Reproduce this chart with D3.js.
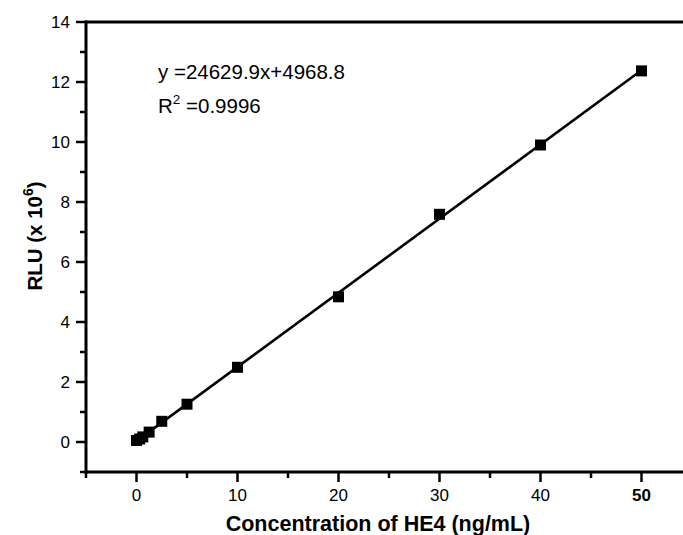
<!DOCTYPE html>
<html><head><meta charset="utf-8">
<script src="https://cdn.jsdelivr.net/npm/d3@7"></script>
<style>body{margin:0;background:#fff}svg{display:block}text{font-family:Arial,"Liberation Sans",sans-serif}</style>
</head><body>
<script>
const concentrations = [0, 0.3125, 0.625, 1.25, 2.5, 5, 10, 20, 30, 40, 50];
const rluValues = [0.05, 0.10, 0.17, 0.33, 0.69, 1.26, 2.49, 4.84, 7.59, 9.90, 12.37];
const xMajorTicks = [0, 10, 20, 30, 40, 50];
const xMinorTicks = [-5, 5, 15, 25, 35, 45];
const yMajorTicks = [0, 2, 4, 6, 8, 10, 12, 14];
const yMinorTicks = [-1, 1, 3, 5, 7, 9, 11, 13];
const equationText = "y =24629.9x+4968.8";
const r2Value = "=0.9996";
const xTitle = "Concentration of HE4 (ng/mL)";

const W = 683, H = 535;
const svg = d3.select("body").append("svg").attr("width", W).attr("height", H);
const x = d3.scaleLinear().domain([-5, 55]).range([86, 692]);
const y = d3.scaleLinear().domain([-1, 14]).range([472, 22]);

// fit line (least squares from data)
const n = concentrations.length;
const mx = d3.mean(concentrations), my = d3.mean(rluValues);
let sxy = 0, sxx = 0;
for (let i = 0; i < n; i++) { sxy += (concentrations[i]-mx)*(rluValues[i]-my); sxx += (concentrations[i]-mx)**2; }
const slope = sxy / sxx, icpt = my - slope * mx;
const fitX = [d3.min(concentrations), d3.max(concentrations)];
svg.append("path")
  .attr("d", d3.line().x(d => x(d)).y(d => y(slope*d + icpt))(fitX))
  .attr("stroke", "#000").attr("stroke-width", 2.6).attr("fill", "none");

// markers
const ms = 11;
svg.selectAll("rect.pt").data(concentrations).join("rect").attr("class","pt")
  .attr("x", d => x(d) - ms/2).attr("y", (d,i) => y(rluValues[i]) - ms/2)
  .attr("width", ms).attr("height", ms).attr("fill", "#000");

// axes lines
const axW = 3;
svg.append("line").attr("x1", x(-5)).attr("x2", W).attr("y1", y(-1)).attr("y2", y(-1)).attr("stroke","#000").attr("stroke-width",axW);
svg.append("line").attr("x1", x(-5)).attr("x2", W).attr("y1", y(14)).attr("y2", y(14)).attr("stroke","#000").attr("stroke-width",axW);
svg.append("line").attr("x1", x(-5)).attr("x2", x(-5)).attr("y1", y(-1)+1.5).attr("y2", y(14)-1.5).attr("stroke","#000").attr("stroke-width",axW);

// x ticks
svg.selectAll("line.xmaj").data(xMajorTicks).join("line")
  .attr("x1", d=>x(d)).attr("x2", d=>x(d)).attr("y1", y(-1)).attr("y2", y(-1)+10)
  .attr("stroke","#000").attr("stroke-width",2.5);
svg.selectAll("line.xmin").data(xMinorTicks).join("line")
  .attr("x1", d=>x(d)).attr("x2", d=>x(d)).attr("y1", y(-1)).attr("y2", y(-1)+6)
  .attr("stroke","#000").attr("stroke-width",2.5);
svg.selectAll("text.xl").data(xMajorTicks).join("text")
  .attr("x", d=>x(d)).attr("y", 501).attr("text-anchor","middle")
  .attr("font-size", 17).attr("font-weight", d => d === 50 ? "bold" : "normal")
  .text(d => d);

// y ticks
svg.selectAll("line.ymaj").data(yMajorTicks).join("line")
  .attr("x1", x(-5)-10).attr("x2", x(-5)).attr("y1", d=>y(d)).attr("y2", d=>y(d))
  .attr("stroke","#000").attr("stroke-width",2.5);
svg.selectAll("line.ymin").data(yMinorTicks).join("line")
  .attr("x1", x(-5)-6).attr("x2", x(-5)).attr("y1", d=>y(d)).attr("y2", d=>y(d))
  .attr("stroke","#000").attr("stroke-width",2.5);
svg.selectAll("text.yl").data(yMajorTicks).join("text")
  .attr("x", 70).attr("y", d=>y(d)+6.3).attr("text-anchor","end")
  .attr("font-size", 17).text(d => d);

// titles
svg.append("text").attr("x", 378).attr("y", 531).attr("text-anchor","middle")
  .attr("font-size", 21.5).attr("font-weight","bold").text(xTitle);
const yt = svg.append("text").attr("transform","translate(42,236) rotate(-90)")
  .attr("text-anchor","middle").attr("font-size", 20.5).attr("font-weight","bold");
yt.append("tspan").text("RLU (x 10");
yt.append("tspan").attr("font-size", 14).attr("dy", -9).text("6");
yt.append("tspan").attr("dy", 9).text(")");

// equation
svg.append("text").attr("x", 158).attr("y", 79).attr("font-size", 20.5).text(equationText);
const r2 = svg.append("text").attr("x", 158).attr("y", 113).attr("font-size", 20.5);
r2.append("tspan").text("R");
r2.append("tspan").attr("font-size", 13.5).attr("dy", -9).text("2");
r2.append("tspan").attr("dy", 9).text(" " + r2Value);
</script>
</body></html>
